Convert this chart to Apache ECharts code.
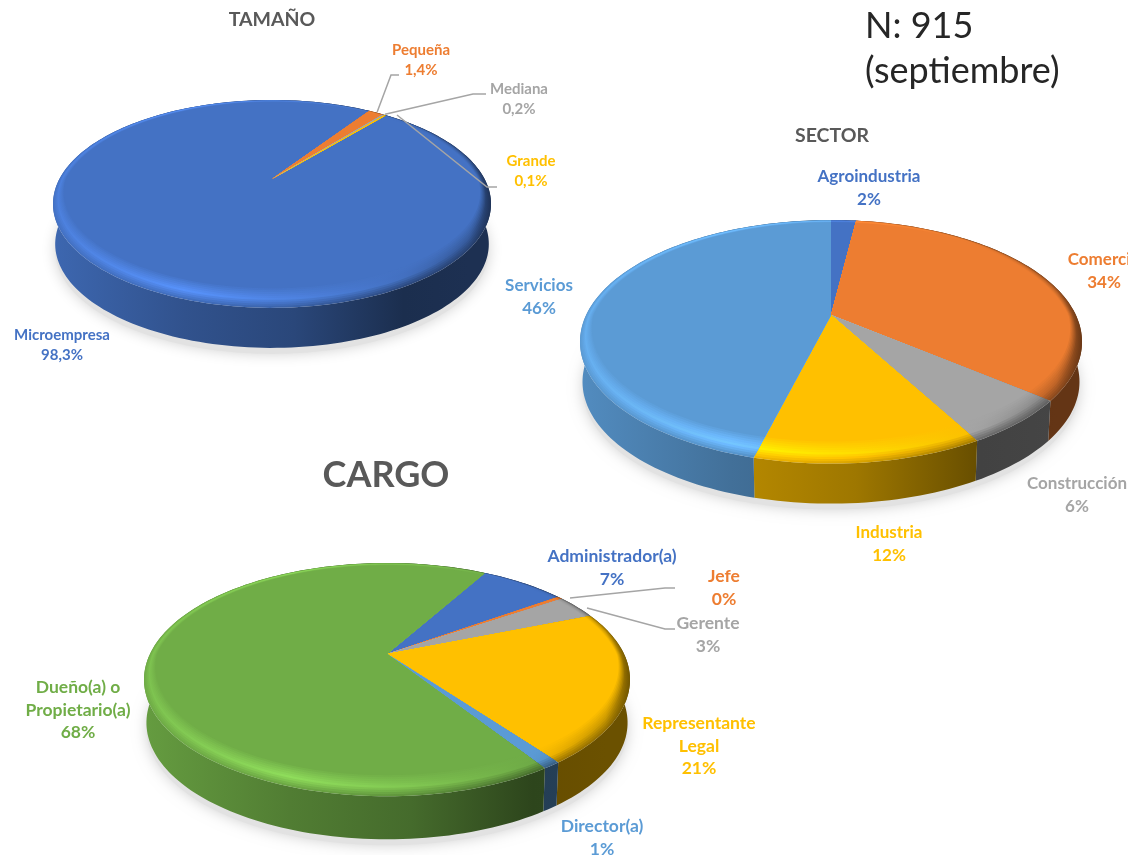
<!DOCTYPE html>
<html>
<head>
<meta charset="utf-8">
<title>Tamaño, sector y cargo</title>
<script src="https://cdn.jsdelivr.net/npm/echarts@6/dist/echarts.min.js"></script>
<style>
html, body { margin: 0; padding: 0; background: #fff; overflow: hidden; }
#chart { width: 1128px; height: 855px; }
</style>
</head>
<body>
<div id="chart"></div>
<script>
// datos
const tamanoNames = ['Microempresa', 'Pequeña', 'Mediana', 'Grande'];
const tamanoValues = [98.3, 1.4, 0.2, 0.1];
const sectorNames = ['Agroindustria', 'Comercio', 'Construcción', 'Industria', 'Servicios'];
const sectorValues = [2, 34, 6, 12, 46];
const cargoNames = ['Administrador(a)', 'Jefe', 'Gerente', 'Representante\nLegal', 'Director(a)', 'Dueño(a) o\nPropietario(a)'];
const cargoValues = [7, 0.4, 3.4, 21, 1, 67.6];

const FONT = 'Lato';
const GREY_LINE = '#A5A5A5';

// pie "3D": cx,cy = vertice, rx = semieje, up = vertice->borde superior, p = perspectiva, h = alto del canto
const pies = [
  {
    names: tamanoNames, values: tamanoValues, decimals: 1, start: 39.5, fontSize: 15, lineHeight: 20,
    colors: ['#4472C4', '#ED7D31', '#A5A5A5', '#FFC000'],
    cx: 272, cy: 179, rx: 219, up: 79, p: 0.24, h: 40,
    labelPos: [[62, 345], [421, 60], [519, 99], [531, 171]],
    leaders: { 1: [[391, 75], [399, 75]], 2: [[473, 94], [486, 94]], 3: [[487, 187], [497, 187]] },
    leaderFrom: { 3: [397, 115] }
  },
  {
    names: sectorNames, values: sectorValues, decimals: 0, start: 0, fontSize: 17, lineHeight: 23,
    colors: ['#4472C4', '#ED7D31', '#A5A5A5', '#FFC000', '#5B9BD5'],
    cx: 831, cy: 315, rx: 251, up: 95, p: 0.22, h: 40,
    labelPos: [[869, 188], [1104, 271], [1077, 495], [889, 544], [539, 297]],
    leaders: {}, leaderFrom: {}
  },
  {
    names: cargoNames, values: cargoValues, decimals: 0, start: 29.5, fontSize: 17.5, lineHeight: 22.5,
    colors: ['#4472C4', '#ED7D31', '#A5A5A5', '#FFC000', '#5B9BD5', '#70AD47'],
    cx: 387, cy: 654, rx: 243, up: 91, p: 0.22, h: 43,
    labelPos: [[612, 568], [724, 588], [708, 635], [699, 746], [602, 838], [78, 710]],
    leaders: { 1: [[665, 588], [675, 588]], 2: [[665, 629], [675, 629]] },
    leaderFrom: { 1: [570, 598], 2: [587, 608] }
  }
];

// [posicion en x, factor del canto, factor del bisel]
const SHADE_STOPS = [
  [0, 0.9, 1.12], [0.3, 0.72, 1.28], [0.55, 0.62, 1.15],
  [0.8, 0.4, 0.98], [0.95, 0.42, 0.8], [1, 0.42, 0.5]
];
const BEVEL_LAYERS = 10;

function shade(hex, f) {
  const n = parseInt(hex.slice(1), 16);
  const c = [n >> 16, (n >> 8) & 255, n & 255].map(function (v) {
    return Math.min(255, Math.round(v * f));
  });
  return 'rgb(' + c.join(',') + ')';
}

function hGradient(pie, color, factorOf) {
  return {
    type: 'linear', x: pie.cx - pie.rx, y: 0, x2: pie.cx + pie.rx, y2: 0, global: true,
    colorStops: SHADE_STOPS.map(function (s) {
      return { offset: s[0], color: shade(color, factorOf(s)) };
    })
  };
}

// perfil del bisel: canto -> brillo -> cara
function bevelFactor(s, u) {
  const edge = 0.55 * s[1] + 0.45 * s[2];
  if (u < 0.4) return edge + (s[2] - edge) * (u / 0.4);
  return s[2] + (1 - s[2]) * ((u - 0.4) / 0.6);
}

// punto del borde del circulo proyectado; bevel encoge el radio sobre la misma recta radial
function project(pie, deg, bevel) {
  const t = deg * Math.PI / 180;
  const front = Math.max(0, -Math.cos(t));
  const r = 1 - bevel * (0.03 + 0.09 * front);
  const x = r * Math.sin(t);
  const y = -r * Math.cos(t);
  const w = 1 - pie.p * y;
  const sx = pie.rx * Math.sqrt(1 - pie.p * pie.p);
  const sy = pie.up * (1 + pie.p);
  return [pie.cx + sx * x / w, pie.cy + sy * y / w];
}

function arc(pie, a0, a1, bevel) {
  const pts = [];
  const n = Math.max(1, Math.ceil((a1 - a0) / 1.5));
  for (let i = 0; i <= n; i++) {
    pts.push(project(pie, a0 + (a1 - a0) * i / n, bevel));
  }
  return pts;
}

function sliceAngles(pie, idx) {
  const total = pie.values.reduce(function (a, b) { return a + b; }, 0);
  let before = 0;
  for (let i = 0; i < idx; i++) before += pie.values[i];
  return [pie.start + before / total * 360, pie.start + (before + pie.values[idx]) / total * 360];
}

function lowerEdge(pie, q, extra) {
  return [pie.cx + (q[0] - pie.cx) * 0.99, q[1] + pie.h + extra];
}

function renderWall(pie) {
  return function (params, api) {
    const ang = sliceAngles(pie, params.dataIndex);
    const top = arc(pie, ang[0], ang[1], 0);
    const bottom = top.map(function (q) { return lowerEdge(pie, q, 0); }).reverse();
    const children = [];
    if (params.dataIndex === 0) {
      const ring = arc(pie, 0, 360, 0).map(function (q) { return lowerEdge(pie, q, 6); });
      children.push({
        type: 'polygon', shape: { points: ring },
        style: { fill: '#e2e2e2', shadowBlur: 14, shadowColor: 'rgba(0,0,0,0.18)' }
      });
    }
    children.push({
      type: 'polygon', shape: { points: top.concat(bottom) },
      style: { fill: hGradient(pie, pie.colors[params.dataIndex], function (s) { return s[1]; }) }
    });
    return { type: 'group', children: children };
  };
}

function renderFace(pie) {
  return function (params, api) {
    const ang = sliceAngles(pie, params.dataIndex);
    const color = pie.colors[params.dataIndex];
    const children = [];
    for (let k = 0; k <= BEVEL_LAYERS; k++) {
      const u = k / BEVEL_LAYERS;
      const pts = arc(pie, ang[0], ang[1], u);
      pts.unshift([pie.cx, pie.cy]);
      children.push({
        type: 'polygon', shape: { points: pts },
        style: { fill: k === BEVEL_LAYERS ? color : hGradient(pie, color, function (s) { return bevelFactor(s, u); }) }
      });
    }
    return { type: 'group', children: children };
  };
}

function renderLabel(pie) {
  return function (params, api) {
    const i = params.dataIndex;
    const ang = sliceAngles(pie, i);
    const value = api.value(0);
    const pct = value.toFixed(pie.decimals).replace('.', ',') + '%';
    const pos = pie.labelPos[i];
    const children = [{
      type: 'text',
      style: {
        x: pos[0], y: pos[1], text: pie.names[i] + '\n' + pct,
        align: 'center', verticalAlign: 'middle',
        fill: pie.colors[i], fontFamily: FONT, fontWeight: 'bold',
        fontSize: pie.fontSize, lineHeight: pie.lineHeight
      }
    }];
    if (pie.leaders[i]) {
      const from = pie.leaderFrom[i] || project(pie, (ang[0] + ang[1]) / 2, -0.3);
      children.push({
        type: 'polyline',
        shape: { points: [from].concat(pie.leaders[i]) },
        style: { stroke: GREY_LINE, lineWidth: 1.5, fill: 'none' }
      });
    }
    return { type: 'group', children: children };
  };
}

const series = [];
pies.forEach(function (pie) {
  [[renderWall, 1], [renderFace, 2], [renderLabel, 3]].forEach(function (layer) {
    series.push({
      type: 'custom',
      coordinateSystem: 'none',
      silent: true,
      z: layer[1],
      clip: false,
      data: pie.values,
      renderItem: layer[0](pie)
    });
  });
});

const chart = echarts.init(document.getElementById('chart'), null, { renderer: 'canvas' });
chart.setOption({
  animation: false,
  backgroundColor: '#fff',
  title: [
    { text: 'TAMAÑO', left: 267, top: 5, textAlign: 'center', textStyle: { fontFamily: FONT, fontSize: 19.5, fontWeight: 'bold', color: '#595959' } },
    { text: 'SECTOR', left: 827, top: 121, textAlign: 'center', textStyle: { fontFamily: FONT, fontSize: 19.5, fontWeight: 'bold', color: '#595959' } },
    { text: 'CARGO', left: 381, top: 452, textAlign: 'center', textStyle: { fontFamily: FONT, fontSize: 36, fontWeight: 'bold', color: '#595959' } },
    { text: 'N: 915\n(septiembre)', left: 860, top: -1, textStyle: { fontFamily: FONT, fontSize: 36, fontWeight: 'normal', color: '#262626', lineHeight: 45 } }
  ],
  series: series
});

window.addEventListener('resize', function () {
  chart.resize();
});
</script>
</body>
</html>
